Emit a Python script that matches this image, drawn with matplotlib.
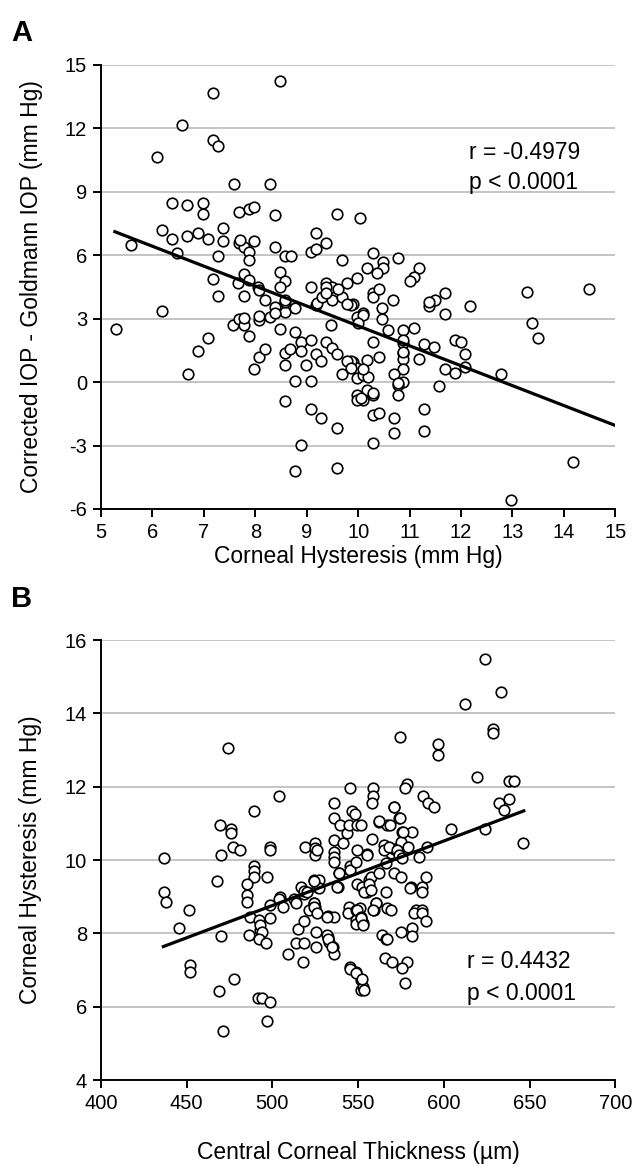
import numpy as np
import matplotlib.pyplot as plt

plt.rcParams['font.family'] = ['Liberation Sans', 'DejaVu Sans']
plt.rcParams['axes.unicode_minus'] = False

# Panel A: corneal hysteresis vs (corrected IOP - Goldmann IOP)
ch_a = [8.48, 7.17, 6.58, 7.17, 7.28, 6.08, 7.59, 8.28, 6.38, 6.68, 6.98, 6.98, 7.68, 7.88, 7.98,
        8.39, 9.58, 10.04, 6.18, 6.38, 6.48, 5.58, 6.68, 6.88, 7.08, 7.38, 7.38, 7.28, 7.68, 7.78,
        7.88, 7.88, 7.98, 8.39, 8.58, 8.70, 9.09, 9.18, 9.18, 9.38, 9.68, 7.18, 7.78, 7.88, 8.48,
        8.58, 9.09, 9.38, 9.49, 9.78, 9.97, 10.29, 10.17, 10.48, 10.48, 10.36, 10.78, 11.19, 11.09,
        11.00, 13.28, 14.48, 13.38, 13.50, 12.18, 11.69, 11.69, 11.50, 11.38, 11.38, 10.67, 10.47,
        10.47, 10.29, 10.29, 10.40, 9.90, 10.09, 9.97, 10.59, 10.88, 11.09, 10.29, 10.88, 10.88,
        10.88, 10.88, 10.88, 10.78, 10.78, 10.69, 11.28, 11.48, 11.19, 11.89, 12.00, 12.08, 12.08,
        11.69, 11.89, 11.58, 12.78, 11.28, 11.28, 10.69, 10.69, 10.29, 10.29, 10.40, 10.18, 10.40,
        9.90, 9.97, 9.97, 10.09, 10.20, 10.18, 10.29, 9.97, 10.09, 9.97, 14.18, 12.98, 5.29, 6.18,
        6.69, 6.88, 7.09, 7.28, 7.57, 7.68, 7.78, 7.88, 7.78, 7.98, 8.08, 8.18, 8.08, 8.08, 8.28,
        8.18, 8.39, 8.48, 8.58, 8.77, 8.77, 8.58, 8.68, 8.88, 8.88, 8.58, 8.98, 8.77, 9.09, 8.58,
        9.09, 9.28, 9.58, 8.88, 8.77, 9.58, 9.09, 9.18, 9.28, 9.38, 9.49, 9.58, 9.47, 9.68, 9.87,
        9.18, 9.38, 9.49, 9.68, 9.87, 8.48, 8.58, 8.39, 8.06, 7.67, 9.60, 8.08, 8.58, 7.78, 9.20,
        9.29, 9.38, 9.79, 10.10, 9.99, 10.09, 10.05, 10.29, 9.78, 9.87, 10.88, 10.88, 10.78, 7.70]
diff_a = [14.26, 13.66, 12.15, 11.45, 11.17, 10.66, 9.37, 9.37, 8.46, 8.36, 8.49, 7.97, 8.06, 8.19,
          8.28, 7.89, 7.97, 7.78, 7.18, 6.77, 6.09, 6.49, 6.92, 7.07, 6.77, 7.28, 6.67, 5.98, 6.59,
          6.38, 6.14, 5.78, 6.67, 6.38, 5.96, 5.96, 6.17, 6.31, 7.07, 6.59, 5.78, 4.89, 5.11, 4.83,
          5.19, 4.80, 4.51, 4.70, 4.51, 4.70, 4.91, 6.12, 5.38, 5.69, 5.38, 5.15, 5.89, 5.38, 4.99,
          4.80, 4.28, 4.39, 2.78, 2.10, 3.60, 4.20, 3.21, 3.88, 3.60, 3.80, 3.88, 3.49, 2.97, 4.20,
          4.01, 4.39, 3.69, 3.25, 3.09, 2.46, 2.46, 2.57, 1.88, 1.83, 1.39, 1.09, 0.61, 0.02, -0.14,
          -0.61, 0.38, 1.80, 1.67, 1.09, 1.99, 1.88, 1.32, 0.70, 0.61, 0.45, -0.19, 0.38, -1.29,
          -2.30, -1.68, -2.40, -2.90, -1.56, -1.48, 1.07, 1.17, 0.97, 0.65, 0.18, 0.33, 0.25, -0.38,
          -0.61, -0.61, -0.85, -0.85, -3.79, -5.58, 2.51, 3.38, 0.38, 1.47, 2.07, 4.09, 2.70, 2.97,
          2.70, 2.20, 4.09, 0.61, 1.17, 1.58, 2.94, 3.13, 3.09, 3.88, 3.57, 2.50, 3.33, 3.49, 2.38,
          1.39, 1.57, 1.91, 1.49, 0.82, 0.82, 0.03, 0.03, -0.89, -1.29, -1.68, -2.19, -2.98, -4.19,
          -4.08, 1.99, 1.33, 1.02, 1.88, 1.60, 1.33, 2.70, 0.38, 1.00, 3.65, 4.51, 3.88, 4.04, 3.65,
          4.51, 3.80, 3.25, 4.51, 4.67, 4.40, 4.36, 3.88, 3.02, 3.73, 4.04, 4.20, 3.68, 3.17, 2.78,
          0.60, -0.77, -0.53, 1.00, 0.65, 1.44, 1.99, -0.06, 6.72]
fit_a = (-0.942, 12.08)      # slope, intercept
range_a = (5.27, 15.0)

# Panel B: central corneal thickness vs corneal hysteresis
cct_b = [436.8, 436.8, 437.8, 451.1, 445.8, 452.0, 452.0, 467.8, 470.0, 470.0, 469.0, 477.8, 471.2,
         474.1, 469.6, 475.8, 475.8, 476.8, 480.9, 489.1, 489.1, 489.1, 489.1, 485.2, 485.2, 485.2,
         496.9, 486.7, 486.5, 493.0, 492.0, 493.0, 494.0, 492.0, 496.3, 498.8, 491.4, 494.0, 498.8,
         496.9, 498.8, 498.8, 498.8, 503.9, 518.9, 525.1, 525.1, 525.1, 504.3, 512.5, 513.5, 524.2,
         525.1, 518.3, 516.4, 518.3, 520.3, 524.2, 527.1, 526.1, 527.1, 503.7, 506.0, 508.9, 513.5,
         518.3, 518.0, 515.0, 518.3, 521.2, 524.2, 524.2, 526.1, 525.7, 525.7, 532.3, 532.3, 535.9,
         535.3, 535.9, 524.2, 532.9, 538.2, 538.8, 537.8, 526.1, 535.9, 535.9, 535.9, 535.9, 535.9,
         535.9, 541.3, 543.3, 545.2, 546.2, 548.1, 539.4, 544.6, 549.5, 551.5, 549.5, 555.0, 545.4,
         545.4, 538.8, 548.5, 558.3, 555.4, 549.5, 552.5, 555.4, 556.3, 557.3, 560.2, 544.6, 551.1,
         544.0, 545.0, 549.0, 551.5, 551.5, 549.0, 549.0, 549.0, 545.2, 553.0, 549.5, 551.5, 553.0,
         559.3, 560.2, 553.4, 556.3, 557.3, 558.9, 551.5, 553.0, 532.0, 532.5, 534.9, 532.0, 558.9,
         558.9, 557.9, 562.2, 567.1, 568.6, 575.8, 581.3, 565.0, 569.0, 571.0, 575.0, 579.3, 590.1,
         585.6, 562.2, 571.0, 573.9, 576.4, 565.1, 568.0, 572.9, 573.9, 575.8, 566.1, 562.2, 570.9,
         574.9, 580.7, 587.5, 587.1, 566.1, 567.1, 583.6, 587.5, 624.2, 633.3, 612.3, 628.5, 628.5,
         574.3, 596.3, 596.3, 619.1, 638.2, 641.1, 578.4, 577.6, 588.1, 590.5, 594.3, 632.4, 638.2,
         635.3, 624.2, 604.1, 646.4, 570.9, 574.3, 569.0, 580.3, 589.5, 564.1, 566.1, 574.9, 581.3,
         581.3, 582.3, 587.5, 589.5, 565.7, 570.0, 578.4, 575.8, 577.2, 548.5, 552.5, 553.4, 567.1]
ch_b = [10.05, 9.14, 8.85, 8.64, 8.14, 7.14, 6.94, 9.44, 10.14, 7.94, 6.43, 6.75, 5.34, 13.06, 10.95,
        10.85, 10.73, 10.35, 10.26, 11.34, 9.84, 9.71, 9.55, 9.36, 9.05, 8.86, 9.55, 8.45, 7.95, 8.09,
        8.36, 8.23, 8.05, 7.86, 7.74, 8.43, 6.23, 6.23, 6.12, 5.62, 10.35, 10.26, 8.77, 11.75, 10.35,
        10.46, 10.32, 10.14, 8.98, 8.93, 8.82, 8.82, 8.71, 9.07, 9.27, 9.16, 9.14, 9.45, 9.45, 9.27,
        9.23, 8.93, 8.73, 7.44, 7.75, 7.75, 7.23, 8.12, 8.35, 8.64, 8.84, 8.73, 8.55, 8.05, 7.64, 8.47,
        7.89, 8.45, 7.64, 7.44, 9.44, 7.77, 9.26, 9.66, 9.27, 10.27, 11.55, 11.14, 10.55, 10.23, 10.09,
        9.95, 10.46, 10.74, 11.96, 11.34, 11.25, 10.95, 10.95, 10.95, 10.95, 10.27, 10.16, 9.84, 9.73,
        9.64, 9.95, 10.56, 10.14, 9.36, 9.27, 9.14, 9.45, 9.55, 8.82, 8.73, 8.68, 8.55, 7.09, 6.95,
        6.73, 6.45, 8.64, 8.36, 8.25, 7.03, 6.55, 8.64, 8.45, 8.27, 8.64, 8.84, 9.14, 9.36, 9.18, 8.64,
        8.41, 8.23, 7.95, 7.84, 7.64, 8.44, 11.96, 11.75, 11.56, 11.04, 10.95, 10.95, 10.77, 10.77,
        10.40, 10.20, 10.30, 10.50, 10.36, 10.36, 10.09, 11.07, 11.45, 11.14, 10.77, 10.27, 10.36,
        10.27, 10.14, 10.05, 9.91, 9.66, 9.66, 9.55, 9.27, 9.27, 9.14, 9.14, 8.68, 8.64, 8.64, 15.47,
        14.57, 14.25, 13.56, 13.46, 13.36, 13.16, 12.86, 12.26, 12.15, 12.15, 12.07, 11.96, 11.75,
        11.56, 11.45, 11.56, 11.66, 11.36, 10.85, 10.85, 10.46, 11.45, 11.14, 8.64, 9.23, 9.55, 7.95,
        7.86, 8.05, 8.14, 7.93, 8.55, 8.55, 8.34, 7.32, 7.23, 7.23, 7.05, 6.64, 6.93, 6.75, 6.45, 7.84]
fit_b = (0.0176, -0.04)
range_b = (436.4, 646.6)

fig = plt.figure(figsize=(6.35, 11.69), dpi=100)
ax1 = fig.add_axes([0.159, 0.5646, 0.81, 0.3798])
ax2 = fig.add_axes([0.159, 0.0761, 0.81, 0.3764])


def style(ax):
    ax.grid(axis='y', color='#bfbfbf', linewidth=1.3)
    ax.set_axisbelow(True)
    for s in ['top', 'right']:
        ax.spines[s].set_visible(False)
    for s in ['left', 'bottom']:
        ax.spines[s].set_linewidth(1.4)
    ax.tick_params(direction='out', length=6, width=1.4, labelsize=14.5, pad=4)


# --- A ---
ax1.plot(ch_a, diff_a, 'o', ms=7.6, mfc='white', mec='black', mew=1.2, zorder=3)
xs = np.array(range_a)
ax1.plot(xs, fit_a[0] * xs + fit_a[1], color='black', lw=2.3, zorder=4)
ax1.set_xlim(5, 15)
ax1.set_ylim(-6, 15)
ax1.set_xticks(range(5, 16))
ax1.set_yticks(range(-6, 16, 3))
style(ax1)
ax1.set_xlabel('Corneal Hysteresis (mm Hg)', fontsize=16.5, labelpad=2)
ax1.set_ylabel('Corrected IOP - Goldmann IOP (mm Hg)', fontsize=16.5, labelpad=16)
ax1.text(12.15, 10.85, 'r = -0.4979', fontsize=16.5, va='center')
ax1.text(12.15, 9.45, 'p < 0.0001', fontsize=16.5, va='center')
fig.text(0.018, 0.972, 'A', fontsize=21, fontweight='bold', va='center')

# --- B ---
ax2.plot(cct_b, ch_b, 'o', ms=7.6, mfc='white', mec='black', mew=1.2, zorder=3)
xs = np.array(range_b)
ax2.plot(xs, fit_b[0] * xs + fit_b[1], color='black', lw=2.3, zorder=4)
ax2.set_xlim(400, 700)
ax2.set_ylim(4, 16)
ax2.set_xticks(range(400, 701, 50))
ax2.set_yticks(range(4, 17, 2))
style(ax2)
ax2.set_xlabel('Central Corneal Thickness (µm)', fontsize=16.5, labelpad=20)
ax2.set_ylabel('Corneal Hysteresis (mm Hg)', fontsize=16.5, labelpad=16)
ax2.text(613.5, 7.22, 'r = 0.4432', fontsize=16.5, va='center')
ax2.text(613.5, 6.37, 'p < 0.0001', fontsize=16.5, va='center')
fig.text(0.018, 0.488, 'B', fontsize=21, fontweight='bold', va='center')

fig.savefig('out.png', dpi=100, facecolor='white')
